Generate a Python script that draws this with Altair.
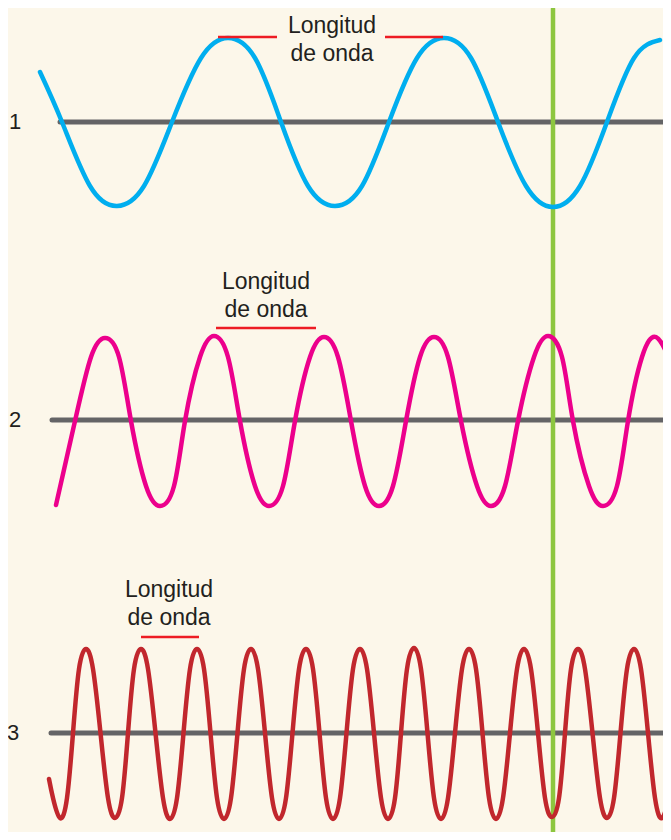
import altair as alt
import pandas as pd

# ---- points (pixel-like units, y grows downward) ----
# Each wave: start, then crossings, shoulder points near the tips, extrema, end.
# wave 1 (blue)
w1_x = [40, 62, 90, 117, 144, 172, 201, 228, 255, 281, 308, 335, 362,
        389, 417, 444, 471, 498, 526, 553, 580, 607, 634, 660]
w1_y = [72, 122, 186, 206, 186, 122, 58, 38, 58, 122, 186, 206, 186,
        122, 58, 38, 58, 122, 186, 207, 186, 122, 58, 40]
# wave 2 (pink)
w2_x = [56,
        75, 91, 105, 119, 131, 146, 160, 174, 185, 200, 214, 228,
        240, 255, 269, 283, 295, 310, 324, 338, 351, 365, 379, 393,
        406, 420, 434, 448, 461, 477, 491, 505, 518, 534, 548, 562,
        573, 589, 603, 617, 628, 642, 656, 670]
w2_y = [505,
        421, 357, 338, 357, 421, 486, 506, 486, 421, 357, 336, 357,
        421, 486, 506, 486, 421, 357, 337, 357, 421, 486, 506, 486,
        421, 357, 337, 357, 421, 486, 506, 486, 421, 357, 336, 357,
        421, 486, 506, 486, 421, 357, 337, 360]
# wave 3 (red)
w3_x = [49,
        53, 60, 67, 73, 79, 86, 93, 100.5, 108, 115, 122, 128,
        134, 141, 148, 155.5, 163, 170, 177, 183.5, 190, 197, 204, 210.5,
        217, 224, 231, 237.5, 244, 251, 258, 265, 272, 279, 286, 292.5,
        299, 306, 313, 319.5, 326, 333, 340, 346.5, 353, 360, 367, 374,
        381, 388, 395, 401, 407, 414, 421, 427.5, 434, 441, 448, 455,
        462, 469, 476, 482.5, 489, 496, 503, 510, 517, 524, 531, 538,
        545, 552, 559, 565, 571, 578, 585, 592.5, 600, 607, 614, 620.5,
        627, 634, 641, 648, 655, 662, 669]
w3_y = [779,
        798, 818, 798, 733, 669, 649, 669, 733, 798, 818, 798, 733,
        669, 649, 669, 733, 798, 819, 798, 733, 669, 649, 669, 733,
        798, 819, 798, 733, 669, 649, 669, 733, 798, 819, 798, 733,
        669, 649, 669, 733, 798, 819, 798, 733, 669, 649, 669, 733,
        798, 819, 798, 733, 669, 648, 669, 733, 798, 819, 798, 733,
        669, 649, 669, 733, 798, 819, 798, 733, 669, 649, 669, 733,
        798, 817, 798, 733, 669, 649, 669, 733, 798, 818, 798, 733,
        669, 649, 669, 733, 798, 818, 798]

wave_names = ["1", "2", "3"]
wave_colors = ["#00AEEF", "#EC008C", "#C1272D"]

# baselines (gray)
base_y = [122, 420, 733]
base_x0 = [60, 52, 51]
base_x1 = [671, 671, 671]

# row numbers
num_text = ["1", "2", "3"]
num_x = [15, 15, 13]
num_y = [122, 420, 733]

# "Longitud de onda" labels
lab_cx = [332, 266, 169]
lab_y1 = [33, 289, 597]
lab_y2 = [61, 317, 625]
lab_line1 = "Longitud"
lab_line2 = "de onda"

# red wavelength markers
seg_x0 = [218, 385, 216, 141]
seg_x1 = [277, 443, 316, 199]
seg_y = [37, 37, 328, 637]

# green vertical reference line
green_x = [553]
green_y0 = [9]
green_y1 = [840]

# ---- build tables ----
rows = []
for name, xs_, ys_ in zip(wave_names, [w1_x, w2_x, w3_x], [w1_y, w2_y, w3_y]):
    assert len(xs_) == len(ys_)
    for i, (xv, yv) in enumerate(zip(xs_, ys_)):
        rows.append({"wave": name, "i": i, "x": xv, "y": yv})
waves = pd.DataFrame(rows)

bases = pd.DataFrame({"x": base_x0, "x2": base_x1, "y": base_y})
nums = pd.DataFrame({"t": num_text, "x": num_x, "y": num_y})
labels = pd.DataFrame({
    "t": [lab_line1] * 3 + [lab_line2] * 3,
    "x": lab_cx + lab_cx,
    "y": lab_y1 + lab_y2,
})
segs = pd.DataFrame({"x": seg_x0, "x2": seg_x1, "y": seg_y})
green = pd.DataFrame({"x": green_x, "y": green_y0, "y2": green_y1})

xs = alt.Scale(domain=[8, 663], nice=False, zero=False)
ys = alt.Scale(domain=[8, 832], nice=False, zero=False, reverse=True)

X = lambda f="x": alt.X(f + ":Q", scale=xs, axis=None)
Y = lambda f="y": alt.Y(f + ":Q", scale=ys, axis=None)

base_layer = alt.Chart(bases).mark_rule(
    color="#646466", strokeWidth=5, strokeCap="round", clip=True
).encode(x=X(), x2="x2:Q", y=Y())

green_layer = alt.Chart(green).mark_rule(
    color="#8DC63F", strokeWidth=4.5, strokeCap="round", clip=True
).encode(x=X(), y=Y(), y2="y2:Q")

wave_layer = alt.Chart(waves).mark_line(
    interpolate="natural", strokeWidth=4.5, strokeCap="round",
    strokeJoin="round", clip=True
).encode(
    x=X(), y=Y(),
    color=alt.Color("wave:N", scale=alt.Scale(domain=wave_names, range=wave_colors), legend=None),
    order="i:Q",
)

seg_layer = alt.Chart(segs).mark_rule(
    color="#ED1C24", strokeWidth=2.5, clip=True
).encode(x=X(), x2="x2:Q", y=Y())

label_layer = alt.Chart(labels).mark_text(
    align="center", baseline="alphabetic", font="Liberation Sans",
    fontSize=23, color="#231F20"
).encode(x=X(), y=Y(), text="t:N")

num_layer = alt.Chart(nums).mark_text(
    align="center", baseline="middle", font="Liberation Sans",
    fontSize=22, color="#231F20"
).encode(x=X(), y=Y(), text="t:N")

chart = alt.layer(
    base_layer, green_layer, wave_layer, seg_layer, label_layer, num_layer
).properties(
    width=655, height=824, padding=0,
    autosize=alt.AutoSizeParams(type="none"),
    background="#FCF7EA",
).configure_view(stroke=None)

chart.save("out.html", embed_options={"renderer": "svg", "actions": False})
